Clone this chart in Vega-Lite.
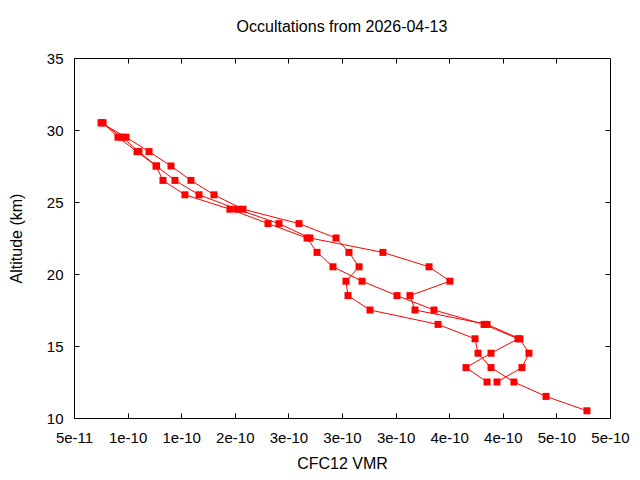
{
  "$schema": "https://vega.github.io/schema/vega-lite/v6.json",
  "width": 536,
  "height": 360,
  "autosize": "none",
  "padding": {"left": 74, "top": 58, "right": 30, "bottom": 62},
  "background": "white",
  "config": {
    "font": "Liberation Sans",
    "view": {"stroke": "black", "strokeWidth": 1},
    "axis": {
      "grid": false,
      "domain": false,
      "tickColor": "black",
      "tickSize": -5,
      "labelColor": "black",
      "labelFontSize": 15,
      "labelOverlap": false,
      "labelFlush": false,
      "labelFont": "Liberation Sans",
      "titleFont": "Liberation Sans",
      "titleFontSize": 16,
      "titleFontWeight": "normal",
      "titleColor": "black"
    }
  },
  "title": {
    "text": "Occultations from 2026-04-13",
    "fontSize": 16,
    "fontWeight": "normal",
    "font": "Liberation Sans",
    "color": "black",
    "offset": 16
  },
  "data": {
    "values": [
      {"profile": "A", "alt": 30.5, "vmr": 7.52e-11},
      {"profile": "A", "alt": 29.5, "vmr": 9.85e-11},
      {"profile": "A", "alt": 28.5, "vmr": 1.2e-10},
      {"profile": "A", "alt": 27.5, "vmr": 1.405e-10},
      {"profile": "A", "alt": 26.5, "vmr": 1.591e-10},
      {"profile": "A", "alt": 25.5, "vmr": 1.806e-10},
      {"profile": "A", "alt": 24.5, "vmr": 2.076e-10},
      {"profile": "A", "alt": 23.5, "vmr": 2.599e-10},
      {"profile": "A", "alt": 22.5, "vmr": 2.944e-10},
      {"profile": "A", "alt": 21.5, "vmr": 3.065e-10},
      {"profile": "A", "alt": 20.5, "vmr": 3.159e-10},
      {"profile": "A", "alt": 19.5, "vmr": 3.037e-10},
      {"profile": "A", "alt": 18.5, "vmr": 3.056e-10},
      {"profile": "A", "alt": 17.5, "vmr": 3.261e-10},
      {"profile": "A", "alt": 16.5, "vmr": 3.896e-10},
      {"profile": "A", "alt": 15.5, "vmr": 4.241e-10},
      {"profile": "A", "alt": 14.5, "vmr": 4.269e-10},
      {"profile": "A", "alt": 13.5, "vmr": 4.39e-10},
      {"profile": "A", "alt": 12.5, "vmr": 4.604e-10},
      {"profile": "A", "alt": 11.5, "vmr": 4.903e-10},
      {"profile": "A", "alt": 10.5, "vmr": 5.285e-10},
      {"profile": "B", "alt": 30.5, "vmr": 7.71e-11},
      {"profile": "B", "alt": 29.5, "vmr": 9.1e-11},
      {"profile": "B", "alt": 28.5, "vmr": 1.088e-10},
      {"profile": "B", "alt": 27.5, "vmr": 1.265e-10},
      {"profile": "B", "alt": 26.5, "vmr": 1.33e-10},
      {"profile": "B", "alt": 25.5, "vmr": 1.535e-10},
      {"profile": "B", "alt": 24.5, "vmr": 1.955e-10},
      {"profile": "B", "alt": 23.5, "vmr": 2.31e-10},
      {"profile": "B", "alt": 22.5, "vmr": 2.674e-10},
      {"profile": "B", "alt": 21.5, "vmr": 2.767e-10},
      {"profile": "B", "alt": 20.5, "vmr": 2.916e-10},
      {"profile": "B", "alt": 19.5, "vmr": 3.187e-10},
      {"profile": "B", "alt": 18.5, "vmr": 3.513e-10},
      {"profile": "B", "alt": 17.5, "vmr": 3.858e-10},
      {"profile": "B", "alt": 16.5, "vmr": 4.325e-10},
      {"profile": "B", "alt": 15.5, "vmr": 4.642e-10},
      {"profile": "B", "alt": 14.5, "vmr": 4.39e-10},
      {"profile": "B", "alt": 13.5, "vmr": 4.157e-10},
      {"profile": "B", "alt": 12.5, "vmr": 4.353e-10},
      {"profile": "C", "alt": 30.5, "vmr": 7.61e-11},
      {"profile": "C", "alt": 29.5, "vmr": 9.48e-11},
      {"profile": "C", "alt": 28.5, "vmr": 1.106e-10},
      {"profile": "C", "alt": 27.5, "vmr": 1.27e-10},
      {"profile": "C", "alt": 26.5, "vmr": 1.442e-10},
      {"profile": "C", "alt": 25.5, "vmr": 1.666e-10},
      {"profile": "C", "alt": 24.5, "vmr": 2.021e-10},
      {"profile": "C", "alt": 23.5, "vmr": 2.412e-10},
      {"profile": "C", "alt": 22.5, "vmr": 2.701e-10},
      {"profile": "C", "alt": 21.5, "vmr": 3.382e-10},
      {"profile": "C", "alt": 20.5, "vmr": 3.812e-10},
      {"profile": "C", "alt": 19.5, "vmr": 4.007e-10},
      {"profile": "C", "alt": 18.5, "vmr": 3.634e-10},
      {"profile": "C", "alt": 17.5, "vmr": 3.681e-10},
      {"profile": "C", "alt": 16.5, "vmr": 4.353e-10},
      {"profile": "C", "alt": 15.5, "vmr": 4.66e-10},
      {"profile": "C", "alt": 14.5, "vmr": 4.744e-10},
      {"profile": "C", "alt": 13.5, "vmr": 4.679e-10},
      {"profile": "C", "alt": 12.5, "vmr": 4.446e-10}
    ]
  },
  "layer": [
    {
      "mark": {"type": "line", "color": "#ff0000", "strokeWidth": 1},
      "encoding": {
        "x": {
          "field": "vmr",
          "type": "quantitative",
          "scale": {"domain": [5e-11, 5.5e-10], "nice": false, "zero": false},
          "axis": {
            "orient": "bottom",
            "values": [5e-11, 1e-10, 1.5e-10, 2e-10, 2.5e-10, 3e-10, 3.5e-10, 4e-10, 4.5e-10, 5e-10, 5.5e-10],
            "labelExpr": "['5e-11','1e-10','1e-10','2e-10','3e-10','3e-10','3e-10','4e-10','4e-10','5e-10','5e-10'][round(datum.value / 5e-11) - 1]",
            "labelPadding": 17,
            "title": "CFC12 VMR",
            "titlePadding": 10
          }
        },
        "y": {
          "field": "alt",
          "type": "quantitative",
          "scale": {"domain": [10, 35], "nice": false, "zero": false},
          "axis": {
            "orient": "left",
            "values": [10, 15, 20, 25, 30, 35],
            "labelPadding": 16,
            "title": "Altitude (km)",
            "titlePadding": 22
          }
        },
        "detail": {"field": "profile"},
        "order": {"field": "alt", "sort": "descending"}
      }
    },
    {
      "mark": {"type": "point", "shape": "square", "filled": true, "color": "#ff0000", "opacity": 1, "size": 49},
      "encoding": {
        "x": {
          "field": "vmr",
          "type": "quantitative",
          "scale": {"domain": [5e-11, 5.5e-10], "nice": false, "zero": false},
          "axis": {
            "orient": "top",
            "values": [1e-10, 1.5e-10, 2e-10, 2.5e-10, 3e-10, 3.5e-10, 4e-10, 4.5e-10, 5e-10],
            "labels": false,
            "title": null
          }
        },
        "y": {
          "field": "alt",
          "type": "quantitative",
          "scale": {"domain": [10, 35], "nice": false, "zero": false},
          "axis": {
            "orient": "right",
            "values": [15, 20, 25, 30],
            "labels": false,
            "title": null
          }
        }
      }
    }
  ],
  "resolve": {"axis": {"x": "independent", "y": "independent"}}
}
